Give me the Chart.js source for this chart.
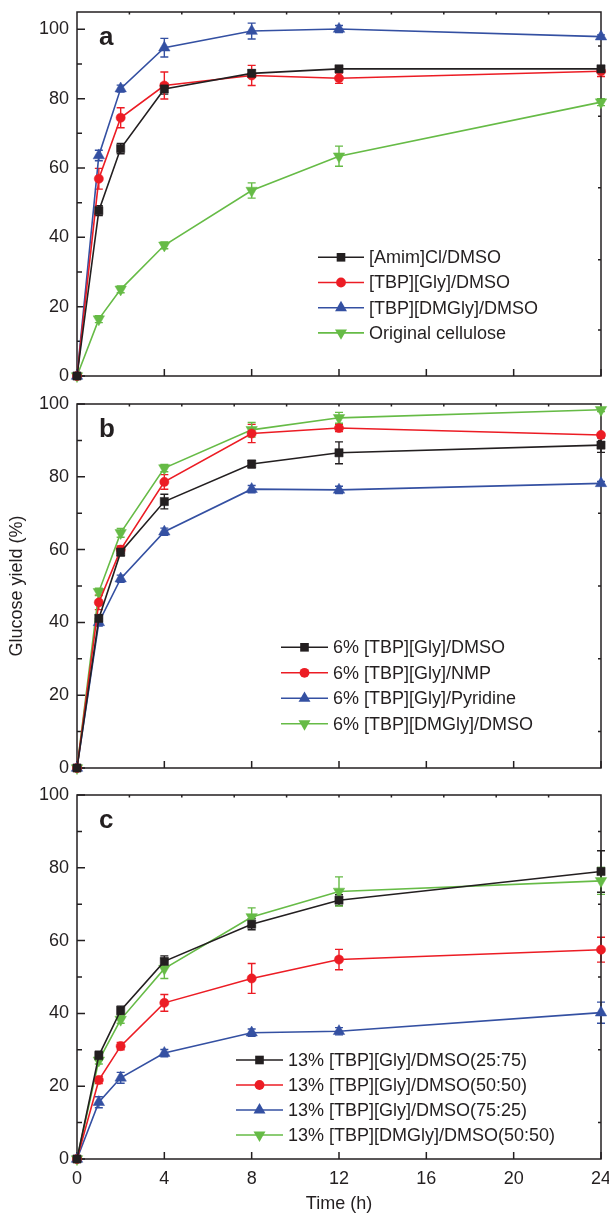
<!DOCTYPE html>
<html>
<head>
<meta charset="utf-8">
<script src="https://cdn.jsdelivr.net/npm/chart.js"></script>
<style>
  html, body { margin: 0; padding: 0; background: #fff; }
  #wrap { position: relative; width: 609px; height: 1213px; overflow: hidden; }
  canvas { position: absolute; left: 0; }
</style>
</head>
<body>
<div id="wrap">
  <canvas id="pa" width="609" height="392" style="top:0px"></canvas>
  <canvas id="pb" width="609" height="390" style="top:392px"></canvas>
  <canvas id="pc" width="609" height="431" style="top:782px"></canvas>
</div>
<script>
// sampling times (h)
const times = [0, 1, 2, 4, 8, 12, 24];
const xTicks = [0, 4, 8, 12, 16, 20, 24];
const xTopTicks = [2.4, 4.8, 7.2, 9.6, 12, 14.4, 16.8, 19.2, 21.6];
const yTicks = [0, 20, 40, 60, 80, 100];
const yMinorTicks = [10, 30, 50, 70, 90];
const yRightTicksA = [13.3, 33.5, 54.3, 74.9, 95.2];
const yRightTicks = [10, 30, 50, 70, 90];

// panel a
const namesA = ["[Amim]Cl/DMSO", "[TBP][Gly]/DMSO", "[TBP][DMGly]/DMSO", "Original cellulose"];
const amimA = [0, 47.7, 65.6, 82.8, 87.3, 88.6, 88.6];
const amimErrA = [0, 1.4, 1.5, 1.5, 1, 0.6, 0.6];
const glyA = [0, 56.9, 74.5, 83.8, 86.7, 85.9, 87.9];
const glyErrA = [0, 3, 2.9, 3.9, 2.9, 1.5, 1.5];
const dmglyA = [0, 63.6, 82.9, 94.7, 99.5, 100.1, 97.9];
const dmglyErrA = [0, 1.5, 1, 2.7, 2.3, 1, 0.5];
const origA = [0, 16.4, 25.0, 37.7, 53.5, 63.4, 79.0];
const origErrA = [0, 1, 1, 1, 2.2, 2.9, 1];

// panel b
const namesB = ["6% [TBP][Gly]/DMSO", "6% [TBP][Gly]/NMP", "6% [TBP][Gly]/Pyridine", "6% [TBP][DMGly]/DMSO"];
const glyDmsoB = [0, 41.1, 59.3, 73.2, 83.5, 86.6, 88.7];
const glyDmsoErrB = [0, 1, 1, 2, 1, 3, 2];
const glyNmpB = [0, 45.5, 60.0, 78.6, 91.9, 93.4, 91.5];
const glyNmpErrB = [0, 2, 1, 2, 2.5, 1, 0.5];
const glyPyrB = [0, 40.0, 52.0, 64.9, 76.6, 76.4, 78.2];
const glyPyrErrB = [0, 1, 1, 1, 1, 1, 0.5];
const dmglyDmsoB = [0, 48.4, 64.6, 82.4, 92.9, 96.2, 98.4];
const dmglyDmsoErrB = [0, 1, 1.2, 1, 2, 1.5, 0.5];

// panel c
const namesC = ["13% [TBP][Gly]/DMSO(25:75)", "13% [TBP][Gly]/DMSO(50:50)", "13% [TBP][Gly]/DMSO(75:25)", "13% [TBP][DMGly]/DMSO(50:50)"];
const gly25C = [0, 28.4, 40.8, 54.3, 64.5, 71.1, 79.0];
const gly25ErrC = [0, 1.2, 1.2, 1.5, 1.5, 1.5, 5.7];
const gly50C = [0, 21.7, 31.0, 42.9, 49.6, 54.8, 57.5];
const gly50ErrC = [0, 1, 1, 2.3, 4.1, 2.8, 3.4];
const gly75C = [0, 15.6, 22.3, 29.1, 34.7, 35.1, 40.2];
const gly75ErrC = [0, 1.5, 1.5, 1, 1, 1, 2.9];
const dmgly50C = [0, 27.1, 38.3, 52.3, 66.5, 73.5, 76.4];
const dmgly50ErrC = [0, 1, 1, 2.7, 2.5, 4.0, 3.7];

const colors = ["#231f20", "#ec1c24", "#3450a2", "#66bb46"];
const ink = "#231f20";
const fontFamily = '"Liberation Sans", Arial, Helvetica, sans-serif';
const markers = [
  { pointStyle: "rect", pointRadius: 5.8, pointRotation: 0, kind: "rect" },
  { pointStyle: "circle", pointRadius: 4.6, pointRotation: 0, kind: "circle" },
  { pointStyle: "triangle", pointRadius: 6.6, pointRotation: 0, kind: "up" },
  { pointStyle: "triangle", pointRadius: 6.6, pointRotation: 180, kind: "down" }
];

Chart.defaults.font.family = fontFamily;
Chart.defaults.color = ink;

function series(i, label, values, errors) {
  const m = markers[i];
  return {
    label,
    data: values.map((v, j) => ({ x: times[j], y: v })),
    errors,
    kind: m.kind,
    borderColor: colors[i],
    backgroundColor: colors[i],
    borderWidth: 1.6,
    pointStyle: m.pointStyle,
    pointRadius: m.pointRadius,
    pointRotation: m.pointRotation,
    pointBorderWidth: 0.5,
    pointBorderColor: colors[i],
    pointBackgroundColor: colors[i],
    tension: 0,
    clip: false
  };
}

function drawMarker(ctx, kind, x, y, r, color) {
  ctx.fillStyle = color;
  ctx.beginPath();
  if (kind === "rect") {
    const s = r * Math.SQRT1_2;
    ctx.rect(x - s, y - s, 2 * s, 2 * s);
  } else if (kind === "circle") {
    ctx.arc(x, y, r, 0, Math.PI * 2);
  } else {
    const d = kind === "down" ? -1 : 1;
    ctx.moveTo(x, y - d * r);
    ctx.lineTo(x + r * 0.866, y + d * r * 0.5);
    ctx.lineTo(x - r * 0.866, y + d * r * 0.5);
    ctx.closePath();
  }
  ctx.fill();
}

const panelPlugin = {
  id: "panel",
  beforeDatasetsDraw(chart, args, o) {
    const { ctx, chartArea: a, scales: { x, y } } = chart;
    ctx.save();
    // error bars
    chart.data.datasets.forEach(ds => {
      ctx.strokeStyle = ds.borderColor;
      ctx.lineWidth = 1.4;
      ctx.beginPath();
      ds.data.forEach((p, j) => {
        const e = ds.errors[j];
        if (!e) return;
        const px = x.getPixelForValue(p.x);
        const top = y.getPixelForValue(p.y + e);
        const bot = y.getPixelForValue(p.y - e);
        ctx.moveTo(px, top); ctx.lineTo(px, bot);
        ctx.moveTo(px - 4, top); ctx.lineTo(px + 4, top);
        ctx.moveTo(px - 4, bot); ctx.lineTo(px + 4, bot);
      });
      ctx.stroke();
    });
    // frame and inward ticks
    ctx.strokeStyle = ink;
    ctx.lineWidth = 1.5;
    ctx.strokeRect(a.left, a.top, a.right - a.left, a.bottom - a.top);
    ctx.beginPath();
    const seg = (x1, y1, x2, y2) => { ctx.moveTo(x1, y1); ctx.lineTo(x2, y2); };
    yTicks.forEach(v => { const py = y.getPixelForValue(v); seg(a.left, py, a.left + 8, py); });
    yMinorTicks.forEach(v => { const py = y.getPixelForValue(v); seg(a.left, py, a.left + 5, py); });
    o.rightTicks.forEach(v => { const py = y.getPixelForValue(v); seg(a.right - 3, py, a.right, py); });
    xTicks.forEach(v => { const px = x.getPixelForValue(v); seg(px, a.bottom, px, a.bottom - 7); });
    xTopTicks.forEach(v => { const px = x.getPixelForValue(v); seg(px, a.top, px, a.top + 2.5); });
    ctx.stroke();
    // panel letter
    ctx.fillStyle = ink;
    ctx.font = "bold 26px " + fontFamily;
    ctx.textAlign = "left";
    ctx.textBaseline = "alphabetic";
    ctx.fillText(o.letter, a.left + 22, a.top + 33);
    // legend
    const L = o.legend;
    ctx.font = "18px " + fontFamily;
    ctx.textBaseline = "middle";
    chart.data.datasets.forEach((ds, i) => {
      const ly = L.y + i * L.dy;
      ctx.strokeStyle = ds.borderColor;
      ctx.lineWidth = 1.6;
      ctx.beginPath();
      ctx.moveTo(L.x0, ly); ctx.lineTo(L.x1, ly);
      ctx.stroke();
      drawMarker(ctx, ds.kind, (L.x0 + L.x1) / 2, ly, ds.pointRadius + 0.3, ds.borderColor);
      ctx.fillStyle = ink;
      ctx.fillText(ds.label, L.tx, ly + 1);
    });
    ctx.restore();
  }
};

function makePanel(id, datasets, cfg) {
  return new Chart(document.getElementById(id), {
    type: "line",
    data: { datasets },
    options: {
      responsive: false,
      animation: false,
      events: [],
      layout: { padding: { left: 0, right: 8, top: cfg.padTop, bottom: cfg.padBottom } },
      scales: {
        x: {
          type: "linear", min: 0, max: 24,
          grid: { display: false, drawTicks: false }, border: { display: false },
          afterBuildTicks: s => { s.ticks = xTicks.map(v => ({ value: v })); },
          afterFit: s => { s.height = cfg.xHeight; s.paddingLeft = 0; s.paddingRight = 0; },
          ticks: { display: cfg.xLabels, padding: 9, color: ink, font: { size: 18 } },
          title: { display: cfg.xLabels, text: "Time (h)", color: ink, font: { size: 18, lineHeight: 1 }, padding: { top: 0, bottom: 0 } }
        },
        y: {
          min: 0, max: cfg.yMax,
          grid: { display: false, drawTicks: false }, border: { display: false },
          afterBuildTicks: s => { s.ticks = yTicks.map(v => ({ value: v })); },
          afterFit: s => { s.width = 77; s.paddingTop = 0; s.paddingBottom = 0; },
          ticks: { padding: 8, color: ink, font: { size: 18 } },
          title: { display: cfg.yTitle, text: "Glucose yield (%)", color: ink, font: { size: 18, lineHeight: 1 }, padding: { top: 8.5, bottom: 0 } }
        }
      },
      plugins: {
        legend: { display: false },
        tooltip: { enabled: false },
        panel: { letter: cfg.letter, rightTicks: cfg.rightTicks, legend: cfg.legend }
      }
    },
    plugins: [panelPlugin]
  });
}

makePanel("pa", [
  series(0, namesA[0], amimA, amimErrA),
  series(1, namesA[1], glyA, glyErrA),
  series(2, namesA[2], dmglyA, dmglyErrA),
  series(3, namesA[3], origA, origErrA)
], { padTop: 12, padBottom: 16, xHeight: 0, yMax: 105, xLabels: false, yTitle: false, letter: "a",
     rightTicks: yRightTicksA, legend: { x0: 318, x1: 364, tx: 369, y: 257.3, dy: 25.2 } });

makePanel("pb", [
  series(0, namesB[0], glyDmsoB, glyDmsoErrB),
  series(1, namesB[1], glyNmpB, glyNmpErrB),
  series(2, namesB[2], glyPyrB, glyPyrErrB),
  series(3, namesB[3], dmglyDmsoB, dmglyDmsoErrB)
], { padTop: 12, padBottom: 14, xHeight: 0, yMax: 100, xLabels: false, yTitle: true, letter: "b",
     rightTicks: yRightTicks, legend: { x0: 281, x1: 328, tx: 333, y: 255.3, dy: 25.5 } });

makePanel("pc", [
  series(0, namesC[0], gly25C, gly25ErrC),
  series(1, namesC[1], gly50C, gly50ErrC),
  series(2, namesC[2], gly75C, gly75ErrC),
  series(3, namesC[3], dmgly50C, dmgly50ErrC)
], { padTop: 13, padBottom: 0, xHeight: 54, yMax: 100, xLabels: true, yTitle: false, letter: "c",
     rightTicks: yRightTicks, legend: { x0: 236, x1: 283, tx: 288, y: 278, dy: 25 } });
</script>
</body>
</html>
